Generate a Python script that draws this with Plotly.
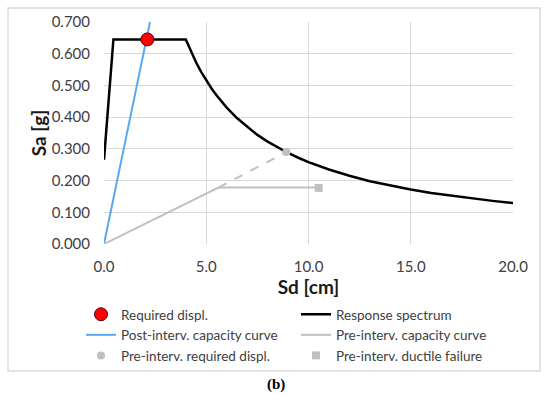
import plotly.graph_objects as go

# ---- data ----
spec_sd = [0.0, 0.46, 4.0, 4.25, 4.5, 4.75, 5.0, 5.25, 5.5, 5.75, 6.0, 6.5, 7.0, 7.5, 8.0, 8.5,
           9.0, 9.5, 10.0, 11.0, 12.0, 13.0, 14.0, 15.0, 16.0, 17.0, 18.0, 19.0, 20.0]
spec_sa = [0.266, 0.645, 0.645, 0.607, 0.573, 0.543, 0.516, 0.491, 0.469, 0.449, 0.430,
           0.397, 0.369, 0.344, 0.323, 0.304, 0.287, 0.272, 0.258, 0.235, 0.215, 0.198,
           0.184, 0.172, 0.161, 0.152, 0.143, 0.136, 0.129]

post_sd = [0.0, 2.25]
post_sa = [0.0, 0.700]

pre_sd = [0.0, 5.6, 10.5]
pre_sa = [0.0, 0.178, 0.178]

pre_ext_sd = [5.6, 8.92]
pre_ext_sa = [0.178, 0.290]

req_sd = [2.12]
req_sa = [0.645]

pre_req_sd = [8.92]
pre_req_sa = [0.290]

pre_fail_sd = [10.5]
pre_fail_sa = [0.177]

x_ticks = [0, 5, 10, 15, 20]
y_ticks = [0, 0.1, 0.2, 0.3, 0.4, 0.5, 0.6, 0.7]

FONT = "Lato"
W, H = 550, 396
L, R, T, B = 104, 37, 22, 152
pw = W - L - R
ph = H - T - B


def px_x(p):
    return (p - L) / pw


def px_y(p):
    return (T + ph - p) / ph


fig = go.Figure()

fig.add_trace(go.Scatter(x=spec_sd, y=spec_sa, mode="lines", name="Response spectrum",
                         line=dict(color="black", width=2.5), legendrank=2))
fig.add_trace(go.Scatter(x=post_sd, y=post_sa, mode="lines", name="Post-interv. capacity curve",
                         line=dict(color="#5aa9f0", width=2), legendrank=3))
fig.add_trace(go.Scatter(x=pre_sd, y=pre_sa, mode="lines", name="Pre-interv. capacity curve",
                         line=dict(color="#c0c0c0", width=2), legendrank=4))
fig.add_trace(go.Scatter(x=pre_ext_sd, y=pre_ext_sa, mode="lines", showlegend=False,
                         line=dict(color="#c0c0c0", width=2, dash="dash")))
fig.add_trace(go.Scatter(x=req_sd, y=req_sa, mode="markers", name="Required displ.",
                         marker=dict(color="#ff0000", size=13, line=dict(color="#5a0000", width=1)),
                         legendrank=1))
fig.add_trace(go.Scatter(x=pre_req_sd, y=pre_req_sa, mode="markers", name="Pre-interv. required displ.",
                         marker=dict(color="#c0c0c0", size=8, symbol="circle"), legendrank=5))
fig.add_trace(go.Scatter(x=pre_fail_sd, y=pre_fail_sa, mode="markers", name="Pre-interv. ductile failure",
                         marker=dict(color="#c0c0c0", size=8, symbol="square"), legendrank=6))

fig.update_layout(
    width=W, height=H,
    margin=dict(l=L, r=R, t=T, b=B, autoexpand=False),
    paper_bgcolor="white", plot_bgcolor="white",
    font=dict(family=FONT, size=14, color="#404040"),
    legend=dict(orientation="h", x=px_x(81), y=px_y(299),
                xanchor="left", yanchor="top", entrywidth=170, entrywidthmode="pixels",
                traceorder="normal", font=dict(size=13.5, color="#404040"),
                bgcolor="rgba(0,0,0,0)"),
    xaxis=dict(range=[0, 20], tickvals=x_ticks, tickformat=".1f", showgrid=True,
               gridcolor="#d9d9d9", gridwidth=1, zeroline=False, showline=False,
               ticks="outside", ticklen=9, tickcolor="rgba(0,0,0,0)", automargin=False,
               tickfont=dict(size=15, color="#404040"),
               title=dict(text="<b>Sd [cm]</b>", font=dict(size=19, color="#1a1a1a"), standoff=0)),
    yaxis=dict(range=[0, 0.7], tickvals=y_ticks, tickformat=".3f", showgrid=True,
               gridcolor="#d9d9d9", gridwidth=1, zeroline=False, showline=False,
               ticks="outside", ticklen=10, tickcolor="rgba(0,0,0,0)", automargin=False,
               tickfont=dict(size=15, color="#404040"),
               title=dict(text="<b>Sa [g]</b>", font=dict(size=19, color="#1a1a1a"), standoff=0)),
)

# outer border of the chart
fig.add_shape(type="rect", xref="paper", yref="paper",
              x0=px_x(8), x1=px_x(540), y0=px_y(371), y1=px_y(8),
              line=dict(color="#d9d9d9", width=1.5), fillcolor="rgba(0,0,0,0)", layer="below")

fig.add_annotation(text="<b>(b)</b>", xref="paper", yref="paper", x=px_x(276), y=px_y(384),
                   showarrow=False, font=dict(family="Liberation Serif", size=15, color="black"),
                   xanchor="center", yanchor="middle")

fig.write_html("out.html", config={"displayModeBar": False},
               post_script="document.body.style.margin='0';document.body.style.overflow='hidden';")
